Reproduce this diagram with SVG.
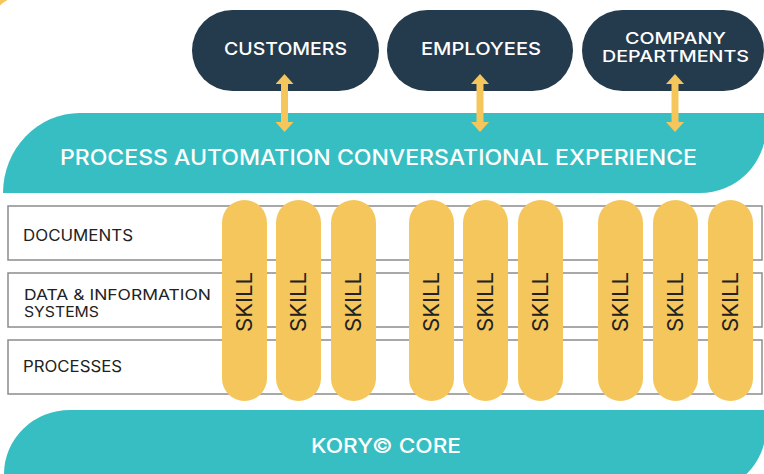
<svg xmlns="http://www.w3.org/2000/svg" width="764" height="474" viewBox="0 0 764 474">
<style>
.navy{fill:#243a4d}
.teal{fill:#37bec2}
.pill{fill:#f5c65c}
.row{fill:#ffffff;stroke:#8c8c8c;stroke-width:1.5}
.wt{fill:#ffffff;font-family:Inter,"Open Sans","Liberation Sans",sans-serif;font-weight:500}
.dt{fill:#222222;font-family:Inter,"Open Sans","Liberation Sans",sans-serif;font-weight:400}
.conn{stroke:#f5c65c;stroke-width:7;fill:none}
</style>
<defs>
<marker id="head" viewBox="0 0 10 18" refX="0" refY="9" markerWidth="10" markerHeight="18" markerUnits="userSpaceOnUse" orient="auto-start-reverse">
<path d="M0,0 L10,9 L0,18 Z" fill="#f5c65c"/>
</marker>
</defs>
<rect width="764" height="474" fill="#ffffff"/>
<path d="M0,0 L7.5,0 Q3,2.5 0,5.5 Z" fill="#f5c65c"/>

<g id="top-band">
<path class="teal" d="M3,193 L700,193 A66,66 0 0 0 766,127 L766,113 L80,113 A77,80 0 0 0 3,193 Z"/>
<text class="wt" x="378.5" y="165" font-size="22" text-anchor="middle" textLength="637" lengthAdjust="spacingAndGlyphs">PROCESS AUTOMATION CONVERSATIONAL EXPERIENCE</text>
</g>

<g id="customers">
<rect class="navy" x="192" y="10" width="187" height="81" rx="40.5"/>
<text class="wt" x="285.5" y="55" font-size="17.5" text-anchor="middle" textLength="123" lengthAdjust="spacingAndGlyphs">CUSTOMERS</text>
</g>
<g id="employees">
<rect class="navy" x="387" y="10" width="186" height="81" rx="40.5"/>
<text class="wt" x="481" y="55" font-size="17.5" text-anchor="middle" textLength="120" lengthAdjust="spacingAndGlyphs">EMPLOYEES</text>
</g>
<g id="company-departments">
<rect class="navy" x="582" y="10" width="182" height="81" rx="40.5"/>
<text class="wt" x="675.5" y="43.5" font-size="16" text-anchor="middle" textLength="101" lengthAdjust="spacingAndGlyphs">COMPANY</text>
<text class="wt" x="675.5" y="62" font-size="16" text-anchor="middle" textLength="147" lengthAdjust="spacingAndGlyphs">DEPARTMENTS</text>
</g>

<g id="connectors">
<line class="conn" x1="284.5" y1="84" x2="284.5" y2="122" marker-start="url(#head)" marker-end="url(#head)"/>
<line class="conn" x1="480" y1="84" x2="480" y2="122" marker-start="url(#head)" marker-end="url(#head)"/>
<line class="conn" x1="675" y1="84" x2="675" y2="122" marker-start="url(#head)" marker-end="url(#head)"/>
</g>

<g id="documents">
<rect class="row" x="8" y="206" width="754" height="54"/>
<text class="dt" x="23" y="241" font-size="15.5" textLength="110" lengthAdjust="spacingAndGlyphs">DOCUMENTS</text>
</g>
<g id="data-information-systems">
<rect class="row" x="8" y="273" width="754" height="54"/>
<text class="dt" x="24" y="300" font-size="14.5" textLength="187" lengthAdjust="spacingAndGlyphs">DATA &amp; INFORMATION</text>
<text class="dt" x="24" y="317" font-size="14.5" textLength="75" lengthAdjust="spacingAndGlyphs">SYSTEMS</text>
</g>
<g id="processes">
<rect class="row" x="8" y="340" width="754" height="54"/>
<text class="dt" x="23" y="372" font-size="15.5" textLength="99" lengthAdjust="spacingAndGlyphs">PROCESSES</text>
</g>

<g id="skill-1"><rect class="pill" x="222" y="200" width="45" height="201" rx="22.5"/><text class="dt" transform="translate(252,302) rotate(-90)" font-size="21" text-anchor="middle" textLength="60" lengthAdjust="spacingAndGlyphs">SKILL</text></g>
<g id="skill-2"><rect class="pill" x="276" y="200" width="45" height="201" rx="22.5"/><text class="dt" transform="translate(306,302) rotate(-90)" font-size="21" text-anchor="middle" textLength="60" lengthAdjust="spacingAndGlyphs">SKILL</text></g>
<g id="skill-3"><rect class="pill" x="331" y="200" width="45" height="201" rx="22.5"/><text class="dt" transform="translate(361,302) rotate(-90)" font-size="21" text-anchor="middle" textLength="60" lengthAdjust="spacingAndGlyphs">SKILL</text></g>
<g id="skill-4"><rect class="pill" x="409" y="200" width="45" height="201" rx="22.5"/><text class="dt" transform="translate(439,302) rotate(-90)" font-size="21" text-anchor="middle" textLength="60" lengthAdjust="spacingAndGlyphs">SKILL</text></g>
<g id="skill-5"><rect class="pill" x="463" y="200" width="45" height="201" rx="22.5"/><text class="dt" transform="translate(493,302) rotate(-90)" font-size="21" text-anchor="middle" textLength="60" lengthAdjust="spacingAndGlyphs">SKILL</text></g>
<g id="skill-6"><rect class="pill" x="518" y="200" width="45" height="201" rx="22.5"/><text class="dt" transform="translate(548,302) rotate(-90)" font-size="21" text-anchor="middle" textLength="60" lengthAdjust="spacingAndGlyphs">SKILL</text></g>
<g id="skill-7"><rect class="pill" x="598" y="200" width="45" height="201" rx="22.5"/><text class="dt" transform="translate(628,302) rotate(-90)" font-size="21" text-anchor="middle" textLength="60" lengthAdjust="spacingAndGlyphs">SKILL</text></g>
<g id="skill-8"><rect class="pill" x="653" y="200" width="45" height="201" rx="22.5"/><text class="dt" transform="translate(683,302) rotate(-90)" font-size="21" text-anchor="middle" textLength="60" lengthAdjust="spacingAndGlyphs">SKILL</text></g>
<g id="skill-9"><rect class="pill" x="708" y="200" width="45" height="201" rx="22.5"/><text class="dt" transform="translate(738,302) rotate(-90)" font-size="21" text-anchor="middle" textLength="60" lengthAdjust="spacingAndGlyphs">SKILL</text></g>

<g id="kory-core">
<path class="teal" d="M4,480 L4,474 A66,64 0 0 1 70,410 L766,410 L766,428 A64,64 0 0 1 702,492 L4,492 Z"/>
<text class="wt" x="386" y="453" font-size="20" text-anchor="middle" textLength="150" lengthAdjust="spacingAndGlyphs">KORY© CORE</text>
</g>
</svg>
